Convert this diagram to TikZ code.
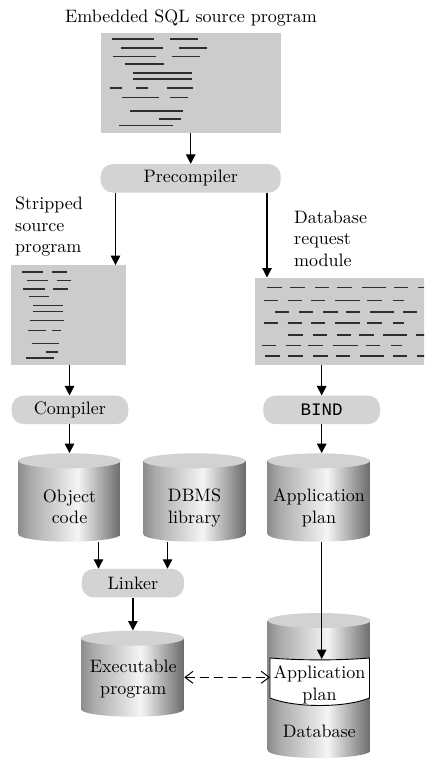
\documentclass[tikz,border=0pt]{standalone}
\usepackage{fontspec}
\setmainfont{lmroman10-regular}[Extension=.otf]
\newfontfamily\bindfont{Liberation Mono}
\usetikzlibrary{arrows.meta,calc}
\definecolor{boxgray}{HTML}{CCCCCC}
\definecolor{procgray}{HTML}{D3D3D3}
\definecolor{topgray}{HTML}{D2D2D2}
\definecolor{codeink}{HTML}{2E2E2E}
\definecolor{cylA}{HTML}{8C8C8C}
\definecolor{cylB}{HTML}{ABABAB}
\definecolor{cylC}{HTML}{F5F5F5}
\definecolor{cylD}{HTML}{6A6A6A}
\pgfdeclarehorizontalshading{cylbody}{100bp}{color(0bp)=(cylA); color(25bp)=(cylA); color(31bp)=(cylB); color(54bp)=(cylC); color(75bp)=(cylD); color(100bp)=(cylD)}
\begin{document}
\begin{tikzpicture}[x=1pt,y=1pt,
  lbl/.style={font=\fontsize{18}{21.7}\selectfont, inner sep=0pt},
  srcbox/.style={fill=boxgray, inner sep=0pt},
  proc/.style={fill=procgray, rounded corners=12pt, minimum height=28.5pt, inner sep=0pt, font=\fontsize{18}{21.7}\selectfont},
  cyl/.style={inner sep=0pt, path picture={
    \shade[shading=cylbody] let \p1=(path picture bounding box.south west), \p2=(path picture bounding box.north east) in
      (\x1,\y2-7.5pt) -- (\x1,\y1+7.5pt) arc[start angle=180,end angle=360,x radius={(\x2-\x1)/2},y radius=7.5pt] -- (\x2,\y2-7.5pt) -- cycle;
    \fill[topgray] let \p1=(path picture bounding box.south west), \p2=(path picture bounding box.north east) in
      ({(\x1+\x2)/2},\y2-7.5pt) ellipse[x radius={(\x2-\x1)/2},y radius=7.5pt];
  }},
  arr/.style={line width=1.3pt, -{Triangle[length=9.5pt,width=9.5pt]}},
  dasharr/.style={line width=1pt, dash pattern=on 9pt off 5pt, {Straight Barb[length=8pt,width=12pt]}-{Straight Barb[length=8pt,width=12pt]}},
  codeline/.style={line width=1.6pt, codeink},
]
\useasboundingbox (0,0) rectangle (424,-759);
\clip (0,0) rectangle (424,-759);

% source program
\node[lbl, anchor=north] (title) at (191,-10) {Embedded SQL source program};
\node[srcbox, minimum width=180pt, minimum height=99.4pt] (src) at (190.7,-83) {};
\foreach \y/\a/\b in {39.3/111.7/154, 39.3/170/198.3, 48.3/121/162.7, 48.3/179/207.3,
  56.7/113.3/155.7, 56.7/172/200, 64.3/125/164.3, 73/132.7/191.7, 79/132.7/191.7,
  88/110/121.7, 88/136.3/147.7, 88/166.7/193.3, 97.7/122.3/158.7, 97.7/170/187.7,
  111.3/130/183.3, 119.3/158.7/181.3, 125.7/119.3/173}
  \draw[codeline] (\a,-\y) -- (\b,-\y);

\node[proc, minimum width=180pt] (pre) at (190.7,-178.3) {Precompiler};

% stripped source
\node[lbl, anchor=north west, align=left] (striplbl) at (15,-196.5) {Stripped\\source\\program};
\node[srcbox, minimum width=115pt, minimum height=99.4pt] (strip) at (68.2,-315) {};
\foreach \y/\a/\b in {272/22.3/43.3, 272/52.3/66.7, 280.3/26.7/48.3, 280.3/56.7/71,
  288.7/23.3/45, 288.7/53.3/67.7, 296.3/29/49.3, 305.3/33.3/63.3, 311.3/33.3/62.7,
  320.3/30/64.3, 330.3/28.3/46, 330.3/52.3/61, 343.3/31.7/59, 351.7/46/57.7, 357.7/26/53.7}
  \draw[codeline] (\a,-\y) -- (\b,-\y);

% database request module
\node[lbl, anchor=north west, align=left] (reqlbl) at (294,-210.5) {Database\\request\\module};
\node[srcbox, minimum width=185.5pt, minimum height=86.8pt] (req) at (347.25,-321.1) {};
\foreach \y/\a/\b in {
  287.3/266.7/281.7, 287.3/290/305, 287.3/315/329, 287.3/337.3/351.7, 287.3/361.7/385.7, 287.3/394/408.3, 287.3/418.3/432,
  300.3/264/278.3, 300.3/287.7/302.3, 300.3/310.7/325, 300.3/335/360, 300.3/367.3/382.3, 300.3/392.7/404,
  311.7/275/289.3, 311.7/299.3/313.3, 311.7/323.3/337.7, 311.7/345.7/360, 311.7/370/394, 311.7/403.3/416.7,
  323/264/278.3, 323/287.7/302.3, 323/310.7/325, 323/335/360, 323/367.3/382.3, 323/392.7/404,
  335/288.3/303.3, 335/312.7/326.7, 335/336.7/351, 335/359.3/374.3, 335/383.3/407.3, 335/416/432,
  345.3/261.7/276, 345.3/286/300.7, 345.3/308.3/322.7, 345.3/332.7/357.7, 345.3/365.7/380, 345.3/391/402.3,
  356/265/280, 356/288.3/303.3, 356/313.3/327.7, 356/335.7/350, 356/360/384.3, 356/392.7/406.7, 356/416.7/432}
  \draw[codeline] (\a,-\y) -- (\b,-\y);

% processors
\node[proc, minimum width=116.6pt] (comp) at (70,-409.9) {Compiler};
\node[proc, minimum width=116.7pt, font=\fontsize{17.5}{20}\bindfont] (bind) at (321.7,-409.9) {BIND};

% cylinders
\node[cyl, minimum width=102.4pt, minimum height=88.4pt] (obj) at (69.5,-497.5) {};
\node[lbl, align=center] (objt) at (69.5,-506.7) {Object\\code};
\node[cyl, minimum width=102.4pt, minimum height=88.4pt] (dbms) at (194.5,-497.5) {};
\node[lbl, align=center] (dbmst) at (194.5,-508.2) {DBMS\\library};
\node[cyl, minimum width=102.4pt, minimum height=88.4pt] (app) at (318.85,-497.5) {};
\node[lbl, align=center] (appt) at (319,-507.7) {Application\\plan};

\node[proc, minimum width=102.3pt] (link) at (132.9,-583.2) {Linker};

\node[cyl, minimum width=103pt, minimum height=86pt] (exe) at (132.5,-673.7) {};
\node[lbl, align=center] (exet) at (133.3,-679) {Executable\\program};

\node[cyl, minimum width=103pt, minimum height=145pt] (db) at (319.2,-685.5) {};
\filldraw[fill=white, draw=black, line width=0.9pt]
  (270,-658) .. controls (300,-660.5) and (340,-660.5) .. (369.5,-658)
  -- (369.5,-698) .. controls (345,-708) and (295,-708) .. (270,-698) -- cycle;
\node[lbl, align=center] (plant) at (319.5,-685) {Application\\plan};
\node[lbl] (dbt) at (319.3,-731.5) {Database};
\coordinate (bandtop) at (321.7,-659);
\coordinate (bandw) at (270,-677.3);

% connectors
\coordinate (xL) at (115.5,0);
\coordinate (xR) at (267,0);
\coordinate (xS) at (69.5,0);
\coordinate (xO) at (98.5,0);
\coordinate (xD) at (167.5,0);
\draw[arr] (src) -- (pre);
\draw[arr] (pre.south -| xL) -- (strip.north -| xL);
\draw[arr] (pre.south -| xR) -- (req.north -| xR);
\draw[arr] (strip.south -| xS) -- (comp.north -| xS);
\draw[arr] (comp.south -| xS) -- (obj.north -| xS);
\draw[arr] (req.south -| bind) -- (bind);
\draw[arr] (bind) -- (bind |- app.north);
\draw[arr] (obj.south -| xO) -- (link.north -| xO);
\draw[arr] (dbms.south -| xD) -- (link.north -| xD);
\draw[arr] (link.south) -- (link.south |- exe.north);
\draw[arr] (app.south -| bind) -- (bandtop);
\draw[dasharr] (exe.east |- bandw) -- (bandw);
\end{tikzpicture}
\end{document}
